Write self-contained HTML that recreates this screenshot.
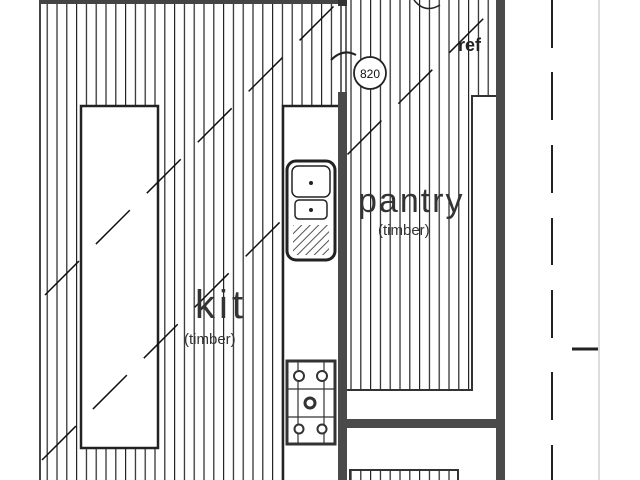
<!DOCTYPE html>
<html><head><style>body{margin:0;background:#fff}svg{display:block}</style></head><body>
<svg width="640" height="480" viewBox="0 0 640 480" xmlns="http://www.w3.org/2000/svg" font-family="Liberation Sans, DejaVu Sans, sans-serif">
<defs>
<pattern id="h" x="3" y="0" width="9.8" height="10" patternUnits="userSpaceOnUse">
<line x1="5" y1="0" x2="5" y2="10" stroke="#222" stroke-width="1.2"/>
</pattern>
<pattern id="d" width="6" height="6" patternUnits="userSpaceOnUse" patternTransform="rotate(45)">
<line x1="0" y1="0" x2="0" y2="6" stroke="#555" stroke-width="2"/>
</pattern>
</defs>
<rect width="640" height="480" fill="#fff"/>
<line x1="599" y1="0" x2="599" y2="480" stroke="#ddd" stroke-width="2"/>
<rect x="41" y="4" width="297" height="476" fill="url(#h)"/>
<line x1="40" y1="0" x2="40" y2="480" stroke="#444" stroke-width="2"/>
<rect x="40" y="0" width="300" height="4" fill="#444"/>
<rect x="347" y="0" width="150" height="390" fill="url(#h)"/>
<line x1="347" y1="390" x2="472" y2="390" stroke="#333" stroke-width="2"/>
<rect x="472" y="96" width="26" height="300" fill="#fff" stroke="#333" stroke-width="2"/>
<rect x="346" y="391" width="151" height="30" fill="#fff"/>
<rect x="81" y="106" width="77" height="342" fill="#fff" stroke="#222" stroke-width="2.5"/>
<rect x="283" y="106" width="57" height="380" fill="#fff" stroke="#222" stroke-width="2.5"/>
<g stroke="#111" stroke-width="1.5" stroke-dasharray="48 24" fill="none">
<line x1="45" y1="295" x2="340" y2="0"/>
<line x1="42" y1="460" x2="500" y2="2"/>
</g>
<rect x="338" y="92" width="9" height="388" fill="#4a4a4a"/>
<rect x="340" y="4" width="7" height="88" fill="#fff"/>
<line x1="341" y1="4" x2="341" y2="92" stroke="#333" stroke-width="1.5"/>
<line x1="346" y1="4" x2="346" y2="92" stroke="#333" stroke-width="1.5"/>
<rect x="338" y="0" width="9" height="6" fill="#333"/>
<rect x="496" y="0" width="9" height="480" fill="#4a4a4a"/>
<rect x="346" y="419" width="152" height="9" fill="#4a4a4a"/>
<rect x="350" y="470" width="108" height="12" fill="url(#h)" stroke="#333" stroke-width="2"/>
<path d="M331 60 Q343 48 356 55" stroke="#222" stroke-width="2" fill="none"/>
<path d="M414 0 Q425 14 440 5" stroke="#222" stroke-width="1.5" fill="none"/>
<circle cx="370" cy="73" r="16" fill="#fff" stroke="#222" stroke-width="1.8"/>
<text x="370" y="78" font-size="12" text-anchor="middle" fill="#111">820</text>
<rect x="287" y="161" width="48" height="99" rx="9" fill="#fff" stroke="#222" stroke-width="3"/>
<rect x="292" y="166" width="38" height="31" rx="6" fill="#fff" stroke="#222" stroke-width="1.5"/>
<rect x="295" y="200" width="32" height="19" rx="4" fill="#fff" stroke="#222" stroke-width="1.5"/>
<rect x="293" y="225" width="36" height="30" fill="url(#d)"/>
<circle cx="311" cy="183" r="2" fill="#222"/>
<circle cx="311" cy="210" r="2" fill="#222"/>
<rect x="287" y="361" width="48" height="83" fill="#fff" stroke="#333" stroke-width="3"/>
<g stroke="#333" stroke-width="1.2" fill="none">
<line x1="287" y1="389" x2="335" y2="389"/><line x1="287" y1="417" x2="335" y2="417"/>
<line x1="298" y1="361" x2="298" y2="444"/><line x1="324" y1="361" x2="324" y2="444"/>
<circle cx="299" cy="376" r="5" fill="#fff" stroke-width="2"/><circle cx="322" cy="376" r="5" fill="#fff" stroke-width="2"/>
<circle cx="310" cy="403" r="5" fill="#fff" stroke-width="3"/>
<circle cx="299" cy="429" r="4.5" fill="#fff" stroke-width="2"/><circle cx="322" cy="429" r="4.5" fill="#fff" stroke-width="2"/>
</g>
<g stroke="#222" stroke-width="2">
<line x1="552" y1="0" x2="552" y2="48"/>
<line x1="552" y1="72" x2="552" y2="120"/>
<line x1="552" y1="145" x2="552" y2="193"/>
<line x1="552" y1="218" x2="552" y2="265"/>
<line x1="552" y1="290" x2="552" y2="338"/>
<line x1="552" y1="372" x2="552" y2="420"/>
<line x1="552" y1="445" x2="552" y2="480"/>
<line x1="572" y1="349" x2="598" y2="349" stroke-width="3"/>
</g>
<text x="195" y="318" font-size="40" fill="#333" letter-spacing="4">kit</text>
<text x="184" y="344" font-size="15" fill="#333">(timber)</text>
<text x="358" y="212" font-size="34" fill="#333" letter-spacing="2">pantry</text>
<text x="378" y="235" font-size="15" fill="#333">(timber)</text>
<text x="458" y="51" font-size="18" font-weight="bold" fill="#222">ref</text>
</svg>
</body></html>
